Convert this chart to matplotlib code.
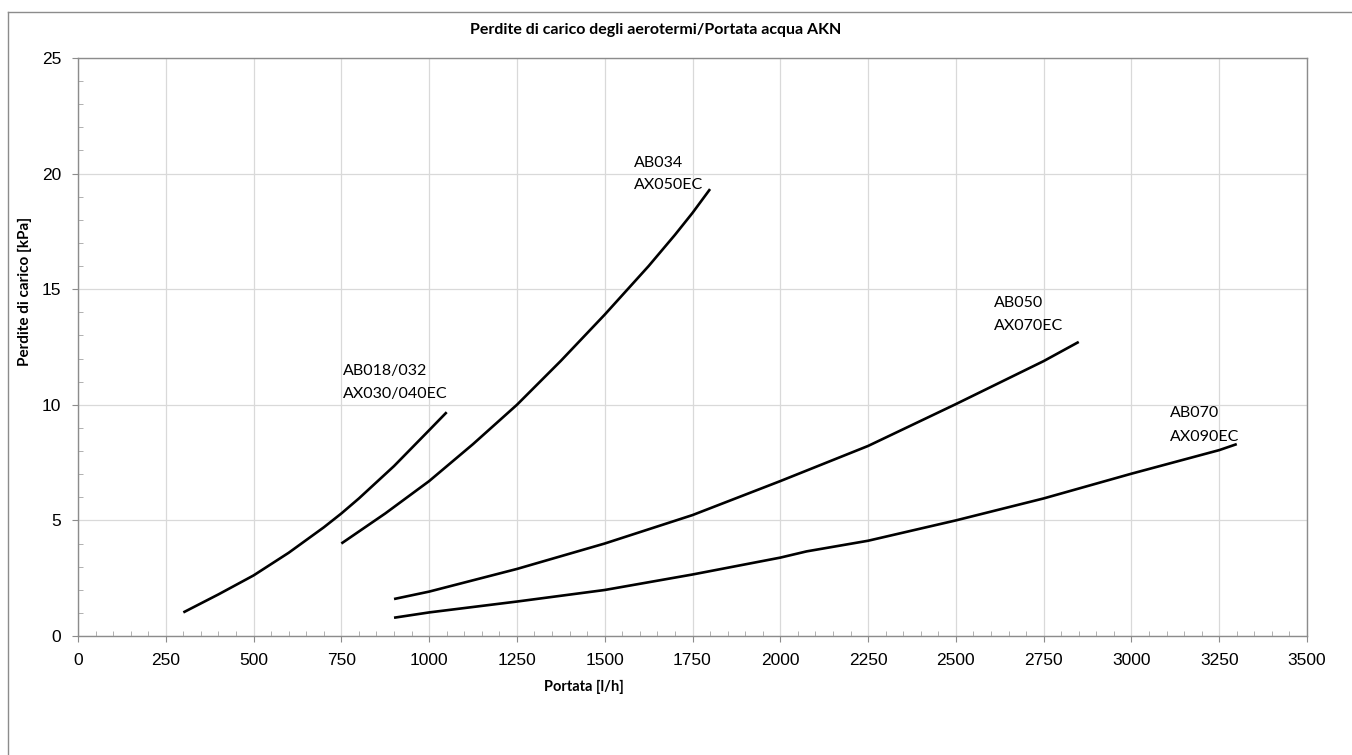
import matplotlib
matplotlib.use("Agg")
import matplotlib.pyplot as plt
from matplotlib.ticker import MultipleLocator
from matplotlib.lines import Line2D

# portata [l/h] / perdite di carico [kPa] per ogni taglia
x_ab018 = [300, 400, 500, 600, 700, 750, 800, 900, 1000, 1050]
y_ab018 = [1.02, 1.8, 2.62, 3.6, 4.7, 5.3, 5.95, 7.35, 8.9, 9.68]

x_ab034 = [750, 875, 1000, 1125, 1250, 1375, 1500, 1625, 1700, 1750, 1800]
y_ab034 = [4.0, 5.3, 6.7, 8.3, 10.0, 11.9, 13.9, 16.0, 17.35, 18.3, 19.33]

x_ab050 = [900, 1000, 1250, 1500, 1750, 2000, 2250, 2500, 2750, 2850]
y_ab050 = [1.6, 1.92, 2.9, 4.0, 5.23, 6.7, 8.22, 10.03, 11.89, 12.72]

x_ab070 = [900, 1000, 1250, 1500, 1750, 2000, 2075, 2250, 2500, 2750, 3000, 3250, 3300]
y_ab070 = [0.79, 1.02, 1.49, 1.99, 2.66, 3.39, 3.66, 4.12, 5.0, 5.95, 7.02, 8.04, 8.3]

labels = [("AB018/032", "AX030/040EC"), ("AB034", "AX050EC"),
          ("AB050", "AX070EC"), ("AB070", "AX090EC")]

W, H = 1352, 755
fig = plt.figure(figsize=(W / 100, H / 100), dpi=100)
ax = fig.add_axes([78 / W, 1 - 636 / H, (1307 - 78) / W, (636 - 58) / H])

for xs, ys in [(x_ab018, y_ab018), (x_ab034, y_ab034),
               (x_ab050, y_ab050), (x_ab070, y_ab070)]:
    ax.plot(xs, ys, color='black', lw=1.9, solid_capstyle='butt',
            solid_joinstyle='round', zorder=3)

ax.set_xlim(0, 3500)
ax.set_ylim(0, 25)
ax.xaxis.set_major_locator(MultipleLocator(250))
ax.xaxis.set_minor_locator(MultipleLocator(50))
ax.yaxis.set_major_locator(MultipleLocator(5))
ax.yaxis.set_minor_locator(MultipleLocator(1))
ax.grid(which='major', color='#d9d9d9', lw=0.9, zorder=0)

for s in ax.spines.values():
    s.set_color('#8c8c8c')
    s.set_linewidth(1.0)

ax.tick_params(which='major', direction='out', length=4, width=0.8,
               color='#8c8c8c', labelsize=12.5, pad=8)
ax.tick_params(which='minor', direction='in', length=3.5, width=0.7,
               color='#b0b0b0')
for lab in ax.get_xticklabels() + ax.get_yticklabels():
    lab.set_family('Liberation Sans')

# etichette delle curve
pos = [(343, 375, 398), (634, 167, 189), (994, 307, 330), (1170, 417, 441)]
for (l1, l2), (px, b1, b2) in zip(labels, pos):
    fig.text(px / W, 1 - b1 / H, l1, family='Lato', fontsize=11.5, va='baseline')
    fig.text(px / W, 1 - b2 / H, l2, family='Lato', fontsize=11.5, va='baseline')

fig.text(656 / W, 1 - 30 / H, "Perdite di carico degli aerotermi/Portata acqua AKN",
         family='Lato', fontweight='bold', fontsize=11.5, ha='center', va='center')
fig.text(584 / W, 1 - 687 / H, "Portata [l/h]", family='Lato',
         fontweight='bold', fontsize=10.5, ha='center', va='center')
fig.text(25 / W, 1 - 291 / H, "Perdite di carico [kPa]", family='Lato',
         fontweight='bold', fontsize=11, ha='center', va='center', rotation=90)

# cornice esterna del grafico
fig.add_artist(Line2D([7.5 / W, 7.5 / W], [0, 1 - 12 / H], transform=fig.transFigure,
                      color='#8c8c8c', lw=1.0))
fig.add_artist(Line2D([7.5 / W, 1], [1 - 12 / H, 1 - 12 / H], transform=fig.transFigure,
                      color='#8c8c8c', lw=1.0))

fig.savefig('out.png', dpi=100)
